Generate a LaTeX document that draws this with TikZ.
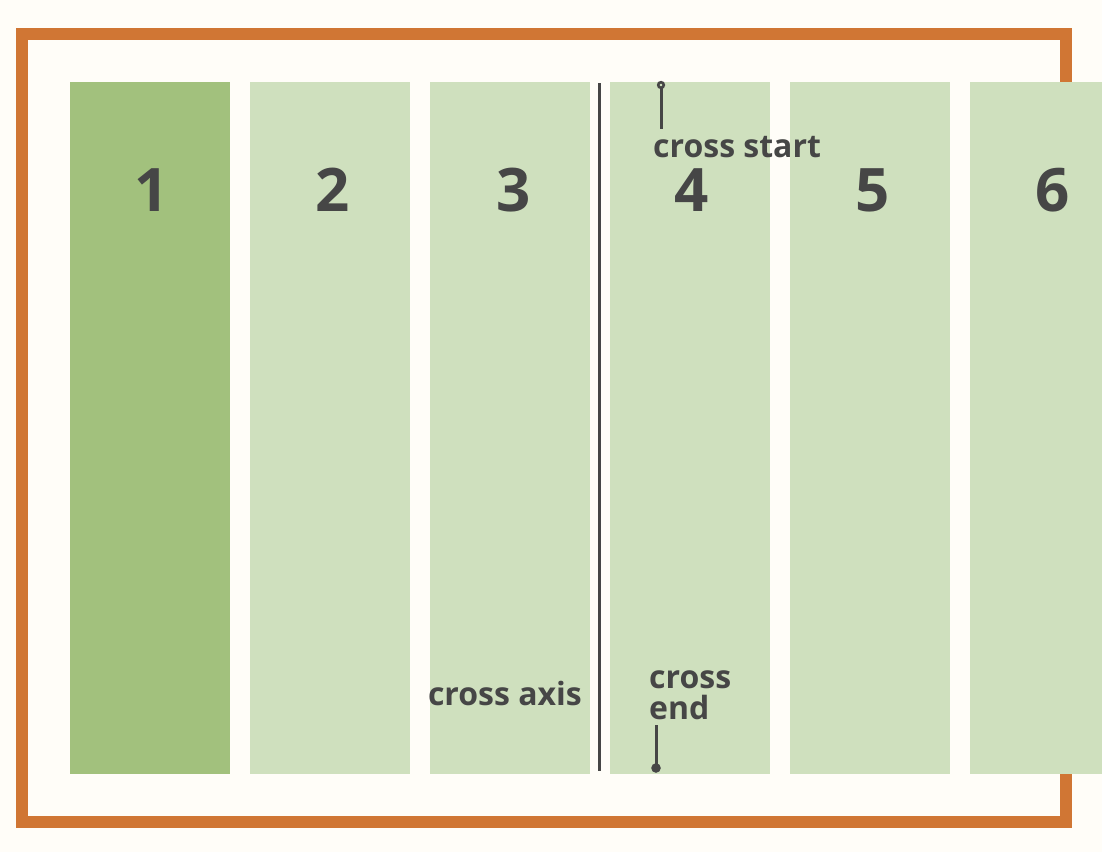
\documentclass[tikz,border=0pt]{standalone}
\usepackage{fontspec}
\setmainfont{Open Sans}
\definecolor{bgc}{HTML}{FFFDF8}
\definecolor{brd}{HTML}{D07634}
\definecolor{darkgreen}{HTML}{A2C17D}
\definecolor{lightgreen}{HTML}{CFE0BE}
\definecolor{ink}{HTML}{464646}
\begin{document}
\begin{tikzpicture}[x=1pt,y=-1pt,
  col/.style={draw=none,minimum width=160pt,minimum height=692pt,inner sep=0pt,anchor=north west},
  num/.style={font=\fontsize{60}{60}\selectfont\bfseries,text=ink,inner sep=0pt},
  lbl/.style={font=\fontsize{32}{31}\selectfont\bfseries,text=ink,inner sep=0pt},
  tickline/.style={draw=ink,line width=3pt}]
\useasboundingbox[fill=bgc] (0,0) rectangle (1102,852);
\draw[brd,line width=12pt] (22,34) rectangle (1066,822);
\begin{scope}
\clip (0,0) rectangle (1102,852);
\node[col,fill=darkgreen] (c1) at (70,82) {};
\node[col,fill=lightgreen] (c2) at (250,82) {};
\node[col,fill=lightgreen] (c3) at (430,82) {};
\node[col,fill=lightgreen] (c4) at (610,82) {};
\node[col,fill=lightgreen] (c5) at (790,82) {};
\node[col,fill=lightgreen] (c6) at (970,82) {};
\end{scope}
\node[num] (n1) at (152,190) {1};
\node[num] (n2) at (333,190) {2};
\node[num] (n3) at (514,190) {3};
\node[num] (n4) at (692,190) {4};
\node[num] (n5) at (873,190) {5};
\node[num] (n6) at (1053,190) {6};
\coordinate (axTop) at (599.5,83);
\coordinate (axBot) at (599.5,771);
\draw[ink,line width=3pt] (axTop) -- (axBot);
\coordinate (csDot) at (661,85);
\coordinate (csEnd) at (661,129);
\draw[tickline] (csDot) -- (csEnd);
\draw[ink,line width=2.6pt,fill=lightgreen] (csDot) circle (2.8pt);
\node[lbl,anchor=base west] (cs) at (653,157) {cross start};
\coordinate (ceTop) at (656,725);
\coordinate (ceDot) at (656,768);
\draw[tickline] (ceTop) -- (ceDot);
\fill[ink] (ceDot) circle (4.8pt);
\node[lbl,anchor=base west,align=left] (ce) at (649,719) {cross\\end};
\node[lbl,anchor=base east] (ca) at (582,705) {cross axis};
\end{tikzpicture}
\end{document}
